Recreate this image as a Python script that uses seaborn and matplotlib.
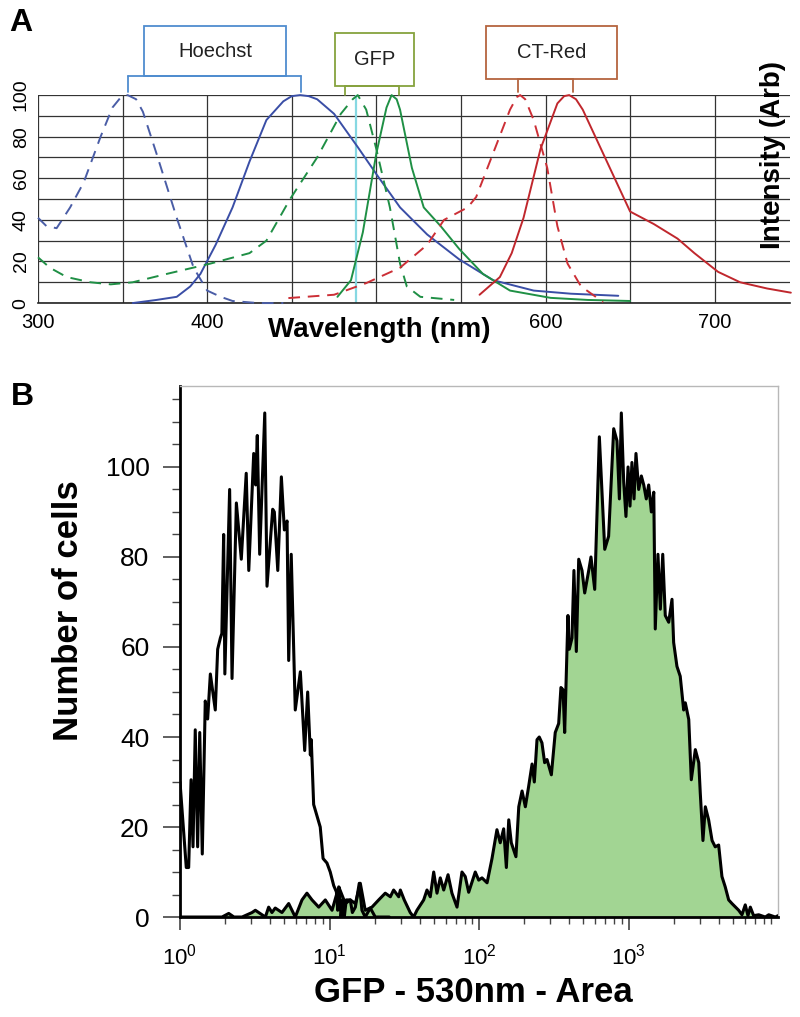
import numpy as np
import pandas as pd
import matplotlib
matplotlib.use("Agg")
import matplotlib.pyplot as plt
import seaborn as sns
from matplotlib.patches import Rectangle
from matplotlib.ticker import MultipleLocator, LogLocator, NullFormatter, FixedLocator

# ---- panel A: spectra (wavelength nm, relative intensity) ----
hoechst_ex_nm = [300, 305, 311, 319, 327, 337, 344, 349, 353, 358, 362, 370, 382, 392, 400, 408, 415, 430, 445]
hoechst_ex_val = [41, 37, 36, 46, 58, 80, 94, 99, 100, 98, 92, 72, 41, 17, 6, 3, 1, 0, 0]

hoechst_em_nm = [356, 370, 382, 390, 396, 405, 415, 425, 435, 445, 450, 455, 460, 465, 475, 489, 500, 514, 530, 549, 569, 593, 615, 643]
hoechst_em_val = [0, 1.5, 3, 8, 14, 28, 46, 68, 88, 97, 99.5, 100, 99.5, 98, 91, 75, 62, 46, 33, 21, 11, 6, 4.5, 3.5]

gfp_ex_nm = [300, 307, 317, 331, 343, 356, 376, 402, 425, 435, 449, 465, 479, 486, 489, 494, 500, 508, 514, 518, 526, 546]
gfp_ex_val = [22, 17, 12.5, 10, 9, 10, 14, 19, 24, 30, 50, 70, 91, 98, 100, 93, 74, 46, 19, 8, 3, 1.5]

gfp_em_nm = [477, 485, 492, 500, 506, 509, 512, 514, 521, 528, 538, 549, 563, 579, 603, 625, 650]
gfp_em_val = [3, 11, 34, 72, 94, 100, 98, 93, 65, 46, 37, 26, 14, 6, 2.5, 1.5, 1]

ctred_ex_nm = [448, 475, 494, 514, 530, 540, 554, 559, 569, 579, 583, 585, 588, 593, 601, 607, 613, 621, 634]
ctred_ex_val = [2.4, 4, 9.6, 17, 28, 40, 46, 51, 72, 93, 99, 100, 98, 88, 65, 37, 19, 8, 0.5]

ctred_em_nm = [561, 573, 580, 587, 597, 607, 611, 614, 618, 622, 634, 650, 664, 678, 688, 702, 715, 731, 745]
ctred_em_val = [4, 12.5, 24, 41, 74, 96, 99.5, 100, 98, 93, 72, 44, 38, 31, 24, 15, 10, 7, 5]

laser_nm = 488

# ---- panel B: flow cytometry histograms (log10 fluorescence, cell count) ----
ctrl_log10 = [0.0, 0.042, 0.058, 0.074, 0.087, 0.102, 0.118, 0.132, 0.149, 0.169,
              0.185, 0.203, 0.236, 0.252, 0.270, 0.280, 0.292, 0.300, 0.332, 0.348,
              0.377, 0.410, 0.443, 0.460, 0.493, 0.506, 0.517, 0.533, 0.567, 0.582,
              0.620, 0.631, 0.654, 0.678, 0.698, 0.716, 0.727, 0.744, 0.771, 0.805,
              0.834, 0.854, 0.872, 0.878, 0.894, 0.938, 0.957, 0.983, 1.005, 1.028,
              1.046, 1.055, 1.066, 1.077, 1.090, 1.099, 1.112, 1.139, 1.153, 1.173,
              1.199, 1.217, 1.239, 1.273, 1.306, 1.40]
ctrl_counts = [30, 11, 11, 30.5, 15.6, 41.6, 15.6, 41, 14, 48,
               44, 54, 46, 59.5, 62, 63, 85, 54, 95, 53,
               92, 79.5, 98.6, 77, 103, 96, 107, 80.6, 112, 73.5,
               90.6, 90, 77, 97.8, 86, 88, 57, 80.6, 46, 54.5,
               37, 50, 36, 39.4, 25, 20, 13, 12, 10, 7,
               5.6, 1.5, 6.5, 0, 3.8, 0, 3.8, 3.8, 1, 2.2,
               7.5, 1.5, 0, 2, 0, 0]

gfp_log10 = [0.0, 0.281, 0.326, 0.361, 0.415, 0.482, 0.504, 0.571, 0.593, 0.615,
             0.637, 0.682, 0.727, 0.771, 0.816, 0.849, 0.883, 0.928, 0.972, 1.017,
             1.062, 1.106, 1.139, 1.173, 1.206, 1.239, 1.284, 1.329, 1.373, 1.407,
             1.429, 1.463, 1.474, 1.500, 1.540, 1.563, 1.585, 1.630, 1.652, 1.674,
             1.697, 1.719, 1.741, 1.764, 1.793, 1.819, 1.853, 1.886, 1.908, 1.931,
             1.975, 1.998, 2.020, 2.054, 2.087, 2.120, 2.142, 2.165, 2.183, 2.199,
             2.216, 2.247, 2.266, 2.288, 2.310, 2.332, 2.355, 2.370, 2.388, 2.403,
             2.421, 2.439, 2.455, 2.484, 2.510, 2.533, 2.548, 2.562, 2.573, 2.595,
             2.604, 2.622, 2.635, 2.651, 2.667, 2.689, 2.707, 2.734, 2.749, 2.774,
             2.805, 2.841, 2.867, 2.901, 2.923, 2.939, 2.952, 2.968, 2.983, 2.997,
             3.010, 3.023, 3.037, 3.050, 3.068, 3.086, 3.102, 3.119, 3.135, 3.153,
             3.169, 3.179, 3.197, 3.213, 3.229, 3.246, 3.269, 3.291, 3.302, 3.324,
             3.346, 3.369, 3.380, 3.403, 3.420, 3.447, 3.470, 3.480, 3.498, 3.514,
             3.536, 3.559, 3.580, 3.603, 3.625, 3.647, 3.670, 3.692, 3.737, 3.759,
             3.781, 3.799, 3.815, 3.837, 3.871, 3.915, 3.938, 3.982, 4.0]
gfp_counts = [0, 0, 0.8, 0, 0, 1, 1.5, 0, 2.2, 1,
              2, 1, 3, 0, 3.8, 5.3, 3.8, 2.2, 3.8, 1.5,
              6.7, 3, 3.8, 3, 7.5, 1.5, 2.2, 3.8, 5.3, 4.5,
              6, 4.5, 6, 3.8, 1, 0, 1.5, 3.8, 6, 4.5,
              10, 5.3, 8.7, 6, 9.4, 5.3, 2.2, 10, 9, 5.5,
              10, 8.2, 8.7, 7.6, 13, 19.4, 16.5, 19.6, 11, 21.6,
              16.5, 13.4, 24.5, 28, 24.5, 29, 34, 30, 39.4, 40,
              38.7, 34.3, 35, 31.6, 41, 43, 51, 50.5, 41, 67,
              59.5, 62, 77, 59, 79.5, 77, 72, 77, 80, 72.8,
              106.7, 81.7, 84.6, 108.5, 105.8, 92.9, 112, 96.6, 89, 100,
              91.3, 101, 92.9, 103, 95, 98, 96, 92.9, 96, 90,
              94.4, 64, 80.6, 68.4, 80.6, 67, 65.5, 70.6, 61, 55.7,
              53.5, 46, 47.6, 43.9, 30.5, 37.2, 34.3, 27.6, 17, 24.5,
              21.6, 17, 15.6, 16, 9, 6.7, 3.8, 3, 1.5, 0.5,
              2.7, 0.3, 2.2, 0.3, 0.5, 0, 0.5, 0, 0.3]

sns.set_style("white")
plt.rcParams["font.family"] = ["Liberation Sans", "DejaVu Sans"]
plt.rcParams["mathtext.default"] = "regular"
plt.rcParams["text.color"] = "black"
plt.rcParams["xtick.labelcolor"] = "black"
plt.rcParams["ytick.labelcolor"] = "black"

fig = plt.figure(figsize=(8, 10.17), dpi=100)

# ================= panel A =================
ax1 = fig.add_axes([0.0475, 0.702, 0.94, 0.2045])
ax1.set_axisbelow(True)

dash = (0, (6, 4))
spectra = [
    (hoechst_ex_nm, hoechst_ex_val, "#4a5da6", dash),
    (hoechst_em_nm, hoechst_em_val, "#3a4ea6", "-"),
    (gfp_ex_nm, gfp_ex_val, "#1f8f45", dash),
    (gfp_em_nm, gfp_em_val, "#1f9045", "-"),
    (ctred_ex_nm, ctred_ex_val, "#cc2f36", dash),
    (ctred_em_nm, ctred_em_val, "#c0272d", "-"),
]
for nm, val, color, ls in spectra:
    df = pd.DataFrame({"nm": nm, "val": val})
    sns.lineplot(data=df, x="nm", y="val", ax=ax1, color=color, lw=1.4,
                 linestyle=ls, sort=False, estimator=None, clip_on=False, zorder=3)

ax1.axvline(laser_nm, color="#86d8e2", lw=1.6, zorder=2)

ax1.set_xlim(300, 744.5)
ax1.set_ylim(0, 100)
ax1.set_xticks(range(300, 701, 50))
ax1.set_xticklabels(["300", "", "400", "", "", "", "600", "", "700"], fontsize=14.5)
ax1.set_yticks(range(0, 101, 10))
ax1.set_yticklabels(["0", "", "20", "", "40", "", "60", "", "80", "", "100"],
                    fontsize=14, rotation=90, va="center")
ax1.tick_params(length=0, pad=6)
ax1.tick_params(axis="x", pad=7)
ax1.grid(True, color="#333333", lw=0.9)
for s in ["top", "right", "left"]:
    ax1.spines[s].set_visible(False)
ax1.spines["bottom"].set_color("#222222")
ax1.spines["bottom"].set_linewidth(1.2)
ax1.set_xlabel("")
ax1.set_ylabel("")
ax1.text(502, -0.13, "Wavelength (nm)", transform=ax1.get_xaxis_transform(),
         ha="center", va="center", fontsize=20, fontweight="bold")
fig.text(0.966, 1 - 155 / 1017, "Intensity (Arb)", rotation=90, ha="center",
         va="center", fontsize=20, fontweight="bold")

# dye labels with brackets
boxes = [
    ("Hoechst", 362.6, 446.5, 109, 133, 353, 455.6, 101.5, "#4f8ccf"),
    ("GFP", 475.5, 522.2, 104.3, 129.8, 481.4, 513.4, 100, "#86a23e"),
    ("CT-Red", 564.8, 642.2, 107.7, 133.2, 583.7, 616.2, 101.4, "#b5653f"),
]
for label, x0, x1, y0, y1, b0, b1, yb, col in boxes:
    ax1.add_patch(Rectangle((x0, y0), x1 - x0, y1 - y0, fill=False, ec=col,
                            lw=1.3, clip_on=False, zorder=4))
    ax1.plot([b0, b1], [y0, y0], color=col, lw=1.3, clip_on=False, zorder=4)
    ax1.plot([b0, b0], [y0, yb], color=col, lw=1.3, clip_on=False, zorder=4)
    ax1.plot([b1, b1], [y0, yb], color=col, lw=1.3, clip_on=False, zorder=4)
    ax1.text((x0 + x1) / 2, (y0 + y1) / 2, label, ha="center", va="center",
             fontsize=14.5, color="#222222", zorder=5)

# ================= panel B =================
ax2 = fig.add_axes([0.225, 0.0983, 0.7475, 0.5222])
ax2.set_xscale("log")

gfp_x = 10 ** np.array(gfp_log10)
ctrl_x = 10 ** np.array(ctrl_log10)
ax2.fill_between(gfp_x, gfp_counts, 0, color="#a2d593", lw=0, zorder=1)
sns.lineplot(x=gfp_x, y=gfp_counts, ax=ax2, color="black", lw=2.2,
             sort=False, estimator=None, zorder=3)
sns.lineplot(x=ctrl_x, y=ctrl_counts, ax=ax2, color="black", lw=2.2,
             sort=False, estimator=None, zorder=3)

ax2.set_xlim(1, 1e4)
ax2.set_ylim(0, 118)
ax2.xaxis.set_major_locator(FixedLocator([1, 10, 100, 1000]))
ax2.xaxis.set_minor_locator(LogLocator(base=10, subs=np.arange(2, 10), numticks=20))
ax2.xaxis.set_minor_formatter(NullFormatter())
ax2.yaxis.set_major_locator(MultipleLocator(20))
ax2.yaxis.set_minor_locator(MultipleLocator(5))
ax2.tick_params(axis="x", which="major", direction="out", length=9, width=1.2,
                labelsize=16, pad=10, bottom=True, color="#444444")
ax2.tick_params(axis="x", which="minor", direction="out", length=5, width=1.0,
                bottom=True, color="#444444")
ax2.tick_params(axis="y", which="major", direction="out", length=12, width=1.2,
                labelsize=19, pad=10, left=True, color="#444444")
ax2.tick_params(axis="y", which="minor", direction="out", length=6, width=1.0,
                left=True, color="#444444")
for s in ["top", "right"]:
    ax2.spines[s].set_color("#b8b8b8")
    ax2.spines[s].set_linewidth(1.0)
for s in ["left", "bottom"]:
    ax2.spines[s].set_color("black")
    ax2.spines[s].set_linewidth(2.0)
ax2.set_xlabel("")
ax2.set_ylabel("")
fig.text(68 / 800, 1 - 611 / 1017, "Number of cells", rotation=90, ha="center",
         va="center", fontsize=25, fontweight="bold")
fig.text(473 / 800, 1 - 993 / 1017, "GFP - 530nm - Area", ha="center",
         va="center", fontsize=25, fontweight="bold")

fig.text(21 / 800, 1 - 23 / 1017, "A", ha="center", va="center",
         fontsize=23, fontweight="bold")
fig.text(22 / 800, 1 - 397 / 1017, "B", ha="center", va="center",
         fontsize=23, fontweight="bold")

fig.savefig("out.png", dpi=100)
